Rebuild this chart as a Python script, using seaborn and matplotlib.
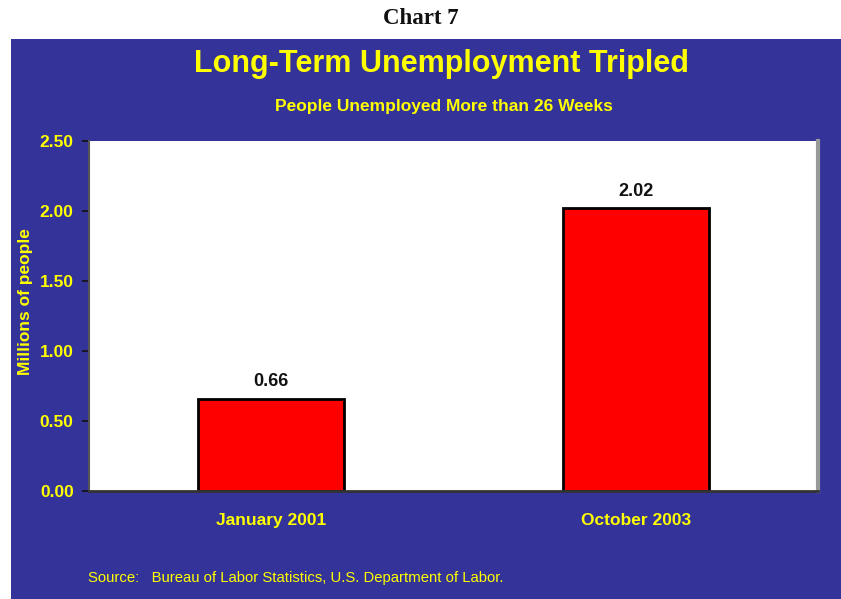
import matplotlib
matplotlib.use("Agg")
import matplotlib.pyplot as plt
from matplotlib.patches import Rectangle
import seaborn as sns
import pandas as pd

# Long-term unemployment (people unemployed more than 26 weeks), millions
periods = ["January 2001", "October 2003"]
unemployed_millions = [0.66, 2.02]
y_ticks = [0.0, 0.5, 1.0, 1.5, 2.0, 2.5]

df = pd.DataFrame({"period": periods, "millions": unemployed_millions})

sns.set_theme(style="white")
plt.rcParams["font.family"] = ["Liberation Sans", "DejaVu Sans"]

PANEL = "#333399"
YELLOW = "#FFFF00"

fig = plt.figure(figsize=(8.41, 5.99), dpi=100)
fig.patch.set_facecolor("white")

# blue backdrop panel below the chart number
fig.add_artist(Rectangle((11 / 841, 0), 1 - 11 / 841, 1 - 39 / 599,
                         transform=fig.transFigure, facecolor=PANEL,
                         edgecolor="none", zorder=0))

ax = fig.add_axes([89 / 841, 1 - 491 / 599, (818 - 89) / 841, (491 - 141) / 599])
ax.set_facecolor("white")

sns.barplot(data=df, x="period", y="millions", ax=ax, color="#FF0000",
            edgecolor="black", linewidth=2, width=0.4, saturation=1)

ax.set_ylim(0, 2.5)
ax.set_xlim(-0.5, 1.5)
ax.set_yticks(y_ticks)
ax.set_yticklabels([f"{t:.2f}" for t in y_ticks], color=YELLOW,
                   fontsize=12.5, fontweight="bold")
ax.set_xticks(range(len(periods)))
ax.set_xticklabels(periods, color=YELLOW, fontsize=12.5, fontweight="bold")
ax.tick_params(axis="y", which="both", left=True, length=5, width=1.2,
               color="#111111", pad=6, direction="out")
ax.tick_params(axis="x", bottom=False, pad=10)

ax.set_xlabel("")
ax.set_ylabel("Millions of people", color=YELLOW, fontsize=12.5,
              fontweight="bold")
ax.yaxis.set_label_coords(-0.077, 0.54)

ax.spines["top"].set_visible(False)
ax.spines["left"].set_color("#555555")
ax.spines["left"].set_linewidth(1.5)
ax.spines["bottom"].set_color("#333333")
ax.spines["bottom"].set_linewidth(2)
ax.spines["right"].set_color("#999999")
ax.spines["right"].set_linewidth(3)

for container in ax.containers:
    ax.bar_label(container, fmt="%.2f", padding=6, fontsize=13,
                 fontweight="bold", color="#111111")

fig.text(0.5, 1 - 19 / 599, "Chart 7", ha="center", va="center",
         fontsize=16.5, fontweight="bold",
         family=["Liberation Serif", "DejaVu Serif"], color="#111111")
fig.text(442 / 841, 1 - 64 / 599, "Long-Term Unemployment Tripled", ha="center",
         va="center", fontsize=22, fontweight="bold", color=YELLOW)
fig.text(444 / 841, 1 - 107 / 599, "People Unemployed More than 26 Weeks",
         ha="center", va="center", fontsize=12.5, fontweight="bold", color=YELLOW)
fig.text(88 / 841, 1 - 578 / 599,
         "Source:   Bureau of Labor Statistics, U.S. Department of Labor.",
         ha="left", va="center", fontsize=10.7, color=YELLOW)

fig.savefig("out.png", dpi=100, facecolor=fig.get_facecolor())
